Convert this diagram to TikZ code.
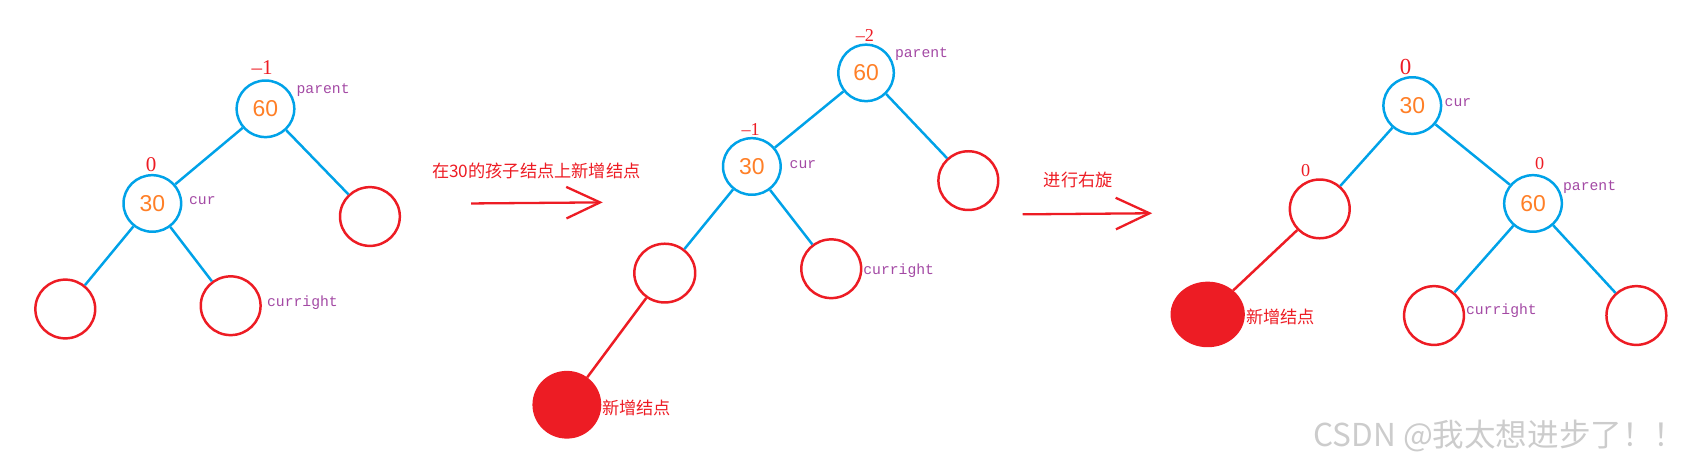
\documentclass[tikz,border=0pt]{standalone}
\usepackage{fontspec}
\setmainfont{Liberation Serif}
\newfontfamily\cjk{Noto Sans CJK SC}
\newfontfamily\monof{Liberation Mono}
\newfontfamily\numf{Liberation Sans}
\usepackage{tikz}
\usetikzlibrary{arrows.meta,shapes.geometric}
\definecolor{paintblue}{HTML}{00A2E8}
\definecolor{paintred}{HTML}{ED1C24}
\definecolor{paintorange}{HTML}{FF7F27}
\definecolor{paintpurple}{HTML}{A349A4}
\tikzset{
  keynode/.style={ellipse,draw=paintblue,line width=1.3pt,minimum width=1.06cm,minimum height=1.04cm,
    inner sep=0pt,text=paintorange,font=\numf\fontsize{12}{14}\selectfont},
  leaf/.style={ellipse,draw=paintred,line width=1.3pt,minimum width=1.1cm,minimum height=1.08cm,inner sep=0pt},
  newleaf/.style={ellipse,draw=paintred,fill=paintred,line width=1.3pt,minimum width=#1,minimum height=1.2cm,inner sep=0pt},
  newleaf/.default=1.22cm,
  bf/.style={text=paintred,inner sep=0pt,font=\fontsize{#1}{#1}\selectfont},
  bf/.default=11,
  tag/.style={text=paintpurple,inner sep=0pt,font=\monof\fontsize{7.7}{9}\selectfont},
  note/.style={text=paintred,inner sep=0pt,font=\cjk\fontsize{9}{11}\selectfont},
  edge/.style={draw=paintblue,line width=1.3pt},
  redge/.style={draw=paintred,line width=1.3pt},
  bigarrow/.style={-{Straight Barb[length=6.2mm,width=5.8mm,line width=1.2pt]},draw=paintred,line width=1.2pt}
}
\begin{document}
\begin{tikzpicture}[x=0.02cm,y=-0.02cm]
\useasboundingbox (0,0) rectangle (1568,426);
% before insertion
\node[keynode] (p1) at (244,100) {60};
\node[keynode] (c1) at (140,187) {30};
\node[leaf] (pr1) at (340,199) {};
\node[leaf] (cl1) at (60,284) {};
\node[leaf] (cr1) at (212,281) {};
\node[bf] (bp1) at (241,62) {--1};
\node[bf] (bc1) at (139,151) {0};
\node[tag] (np1) at (297,83) {parent};
\node[tag] (nc1) at (186,184) {cur};
\node[tag] (ncr1) at (278,278) {curright};
\draw[edge] (p1) -- (c1);
\draw[edge] (p1) -- (pr1);
\draw[edge] (c1) -- (cl1);
\draw[edge] (c1) -- (cr1);
% first arrow
\coordinate (a1s) at (433,187);
\coordinate (a1e) at (554,186);
\draw[bigarrow] (a1s) -- (a1e);
\node[note] (step1) at (493,157) {在30的孩子结点上新增结点};
% after insertion
\node[keynode,minimum width=1.02cm] (p2) at (796,67) {60};
\node[keynode,minimum width=1.06cm] (c2) at (691,153) {30};
\node[leaf] (pr2) at (890,166) {};
\node[leaf,minimum width=1.12cm] (cl2) at (611,251) {};
\node[leaf] (cr2) at (764,247) {};
\node[newleaf] (new2) at (521,372) {};
\node[bf=9.5] (bp2) at (795,33) {--2};
\node[bf=9.5] (bc2) at (690,119) {--1};
\node[tag] (np2) at (847,50) {parent};
\node[tag] (nc2) at (738,151) {cur};
\node[tag] (ncr2) at (826,249) {curright};
\node[note] (nn2) at (585,375) {新增结点};
\draw[edge] (p2) -- (c2);
\draw[edge] (p2) -- (pr2);
\draw[edge] (c2) -- (cl2);
\draw[edge] (c2) -- (cr2);
\draw[redge] (cl2) -- (new2);
% second arrow
\coordinate (a2s) at (940,197);
\coordinate (a2e) at (1059,196);
\draw[bigarrow] (a2s) -- (a2e);
\node[note] (step2) at (991,165) {进行右旋};
% after right rotation
\node[keynode] (c3) at (1298,97) {30};
\node[keynode] (p3) at (1409,187) {60};
\node[leaf] (cl3) at (1213,192) {};
\node[newleaf=1.32cm,minimum height=1.16cm] (new3) at (1110,289) {};
\node[leaf] (cr3) at (1318,290) {};
\node[leaf] (pr3) at (1504,290) {};
\node[bf=12] (bc3) at (1292,62) {0};
\node[bf=9.5] (bl3) at (1200,157) {0};
\node[bf=9.5] (bp3) at (1415,150) {0};
\node[tag] (nc3) at (1340,94) {cur};
\node[tag] (np3) at (1461,172) {parent};
\node[tag] (ncr3) at (1380,286) {curright};
\node[note] (nn3) at (1177,291) {新增结点};
\draw[edge] (c3) -- (cl3);
\draw[edge] (c3) -- (p3);
\draw[edge] (p3) -- (cr3);
\draw[edge] (p3) -- (pr3);
\draw[redge] (cl3) -- (new3);
% watermark
\node[text=gray!40,inner sep=0pt,font=\cjk\fontsize{16.5}{18}\selectfont] (mark) at (1378,401) {CSDN @我太想进步了！！};
\end{tikzpicture}
\end{document}
